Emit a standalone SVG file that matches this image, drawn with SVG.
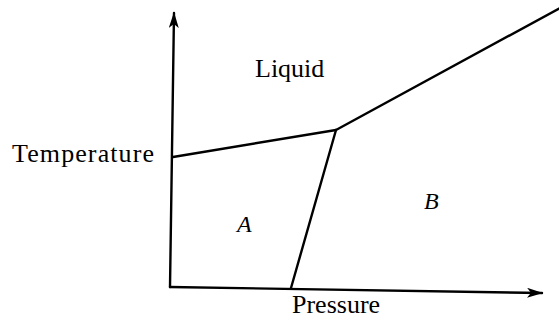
<svg xmlns="http://www.w3.org/2000/svg" width="559" height="320" viewBox="0 0 559 320">
<defs>
<style>
.ln{stroke:#000;stroke-width:2.4;fill:none;stroke-linecap:round}
.lbl{font-family:"Liberation Serif","Times New Roman",serif;font-size:26px;fill:#000}
.it{font-style:italic;font-size:24px}
</style>
<marker id="ah" viewBox="0 0 16 10" refX="15" refY="5" markerWidth="16" markerHeight="10" markerUnits="userSpaceOnUse" orient="auto">
<path d="M0,0 L16,5 L0,10 L4,5 Z" fill="#000"/>
</marker>
</defs>
<rect width="559" height="320" fill="#fff"/>
<g id="connectors">
<line class="ln" x1="170" y1="287" x2="174" y2="13" marker-end="url(#ah)"/>
<line class="ln" x1="170" y1="287" x2="542" y2="293" marker-end="url(#ah)"/>
<line class="ln" x1="173" y1="157" x2="336" y2="130"/>
<line class="ln" x1="336" y1="130" x2="560" y2="8"/>
<line class="ln" x1="336" y1="130" x2="291" y2="288"/>
</g>
<g id="liquid"><text class="lbl" x="255" y="77">Liquid</text></g>
<g id="temperature"><text class="lbl" x="12" y="162" textLength="142">Temperature</text></g>
<g id="pressure"><text class="lbl" x="292" y="313">Pressure</text></g>
<g id="A"><text class="lbl it" x="237" y="232">A</text></g>
<g id="B"><text class="lbl it" x="424" y="209">B</text></g>
</svg>
